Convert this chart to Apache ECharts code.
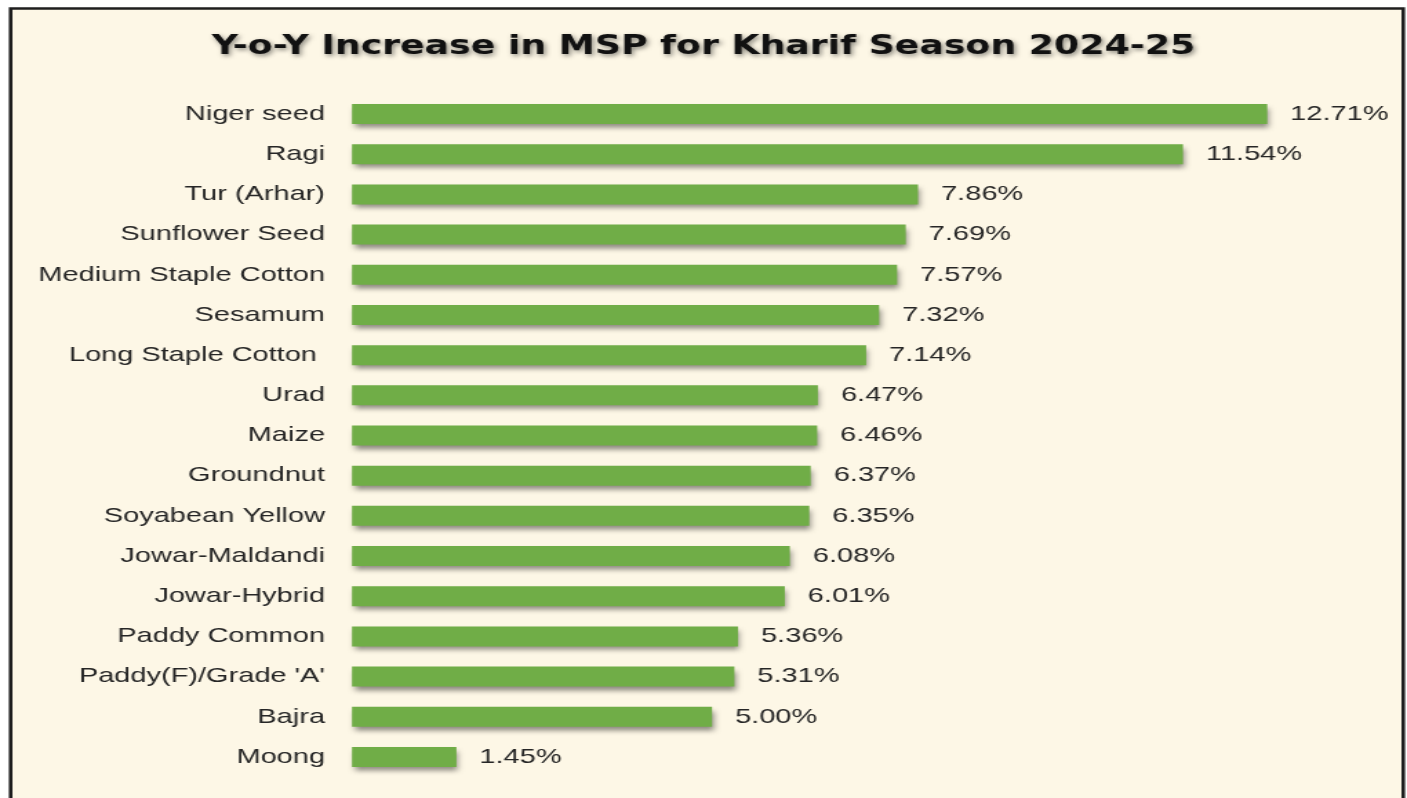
<!DOCTYPE html>
<html><head><meta charset="utf-8">
<script src="https://cdn.jsdelivr.net/npm/echarts@6/dist/echarts.min.js"></script>
<style>html,body{margin:0;padding:0;background:#fff;overflow:hidden}#c{width:1020px;height:798px;transform:scaleX(1.37941);transform-origin:0 0}</style>
</head><body><div id="c"></div>
<script>
const titleText = "Y-o-Y Increase in MSP for Kharif Season 2024-25";
const categories = ["Niger seed","Ragi","Tur (Arhar)","Sunflower Seed","Medium Staple Cotton","Sesamum","Long Staple Cotton ","Urad","Maize","Groundnut","Soyabean Yellow","Jowar-Maldandi","Jowar-Hybrid","Paddy Common","Paddy(F)/Grade 'A'","Bajra","Moong"];
const increasePct = [12.71,11.54,7.86,7.69,7.57,7.32,7.14,6.47,6.46,6.37,6.35,6.08,6.01,5.36,5.31,5.00,1.45];

const chart = echarts.init(document.getElementById('c'), null, {renderer:'canvas'});
chart.setOption({
  backgroundColor:'#ffffff',
  animation:false,
  graphic:[{type:'rect', z:-10, silent:true, shape:{x:7.7,y:8.5,width:1009.6,height:810}, style:{fill:'#FDF7E6', stroke:'#1e1e1e', lineWidth:2.6}}],
  title:{text:titleText, left:'center', top:29, textStyle:{fontFamily:'DejaVu Sans', fontWeight:'bold', fontSize:26.3, color:'#111', textShadowColor:'rgba(0,0,0,0.45)', textShadowBlur:4, textShadowOffsetX:1.5, textShadowOffsetY:2}},
  grid:{left:255.2, right:86.2, top:94, bottom:21, containLabel:false},
  xAxis:{type:'value', min:0, max:13, show:false},
  yAxis:{type:'category', data:categories, inverse:true,
    axisLine:{show:false}, axisTick:{show:false},
    axisLabel:{margin:19.6, fontFamily:'Liberation Sans', fontSize:21, color:'#262626'}},
  series:[{type:'bar', data:increasePct, barWidth:20,
    itemStyle:{color:'#70AD47', shadowColor:'rgba(0,0,0,0.45)', shadowBlur:5, shadowOffsetX:1.5, shadowOffsetY:4},
    label:{show:true, position:'right', distance:16.7, fontFamily:'Liberation Sans', fontSize:21, color:'#262626',
      formatter:p=>p.value.toFixed(2)+'%'}}]
});
</script></body></html>
